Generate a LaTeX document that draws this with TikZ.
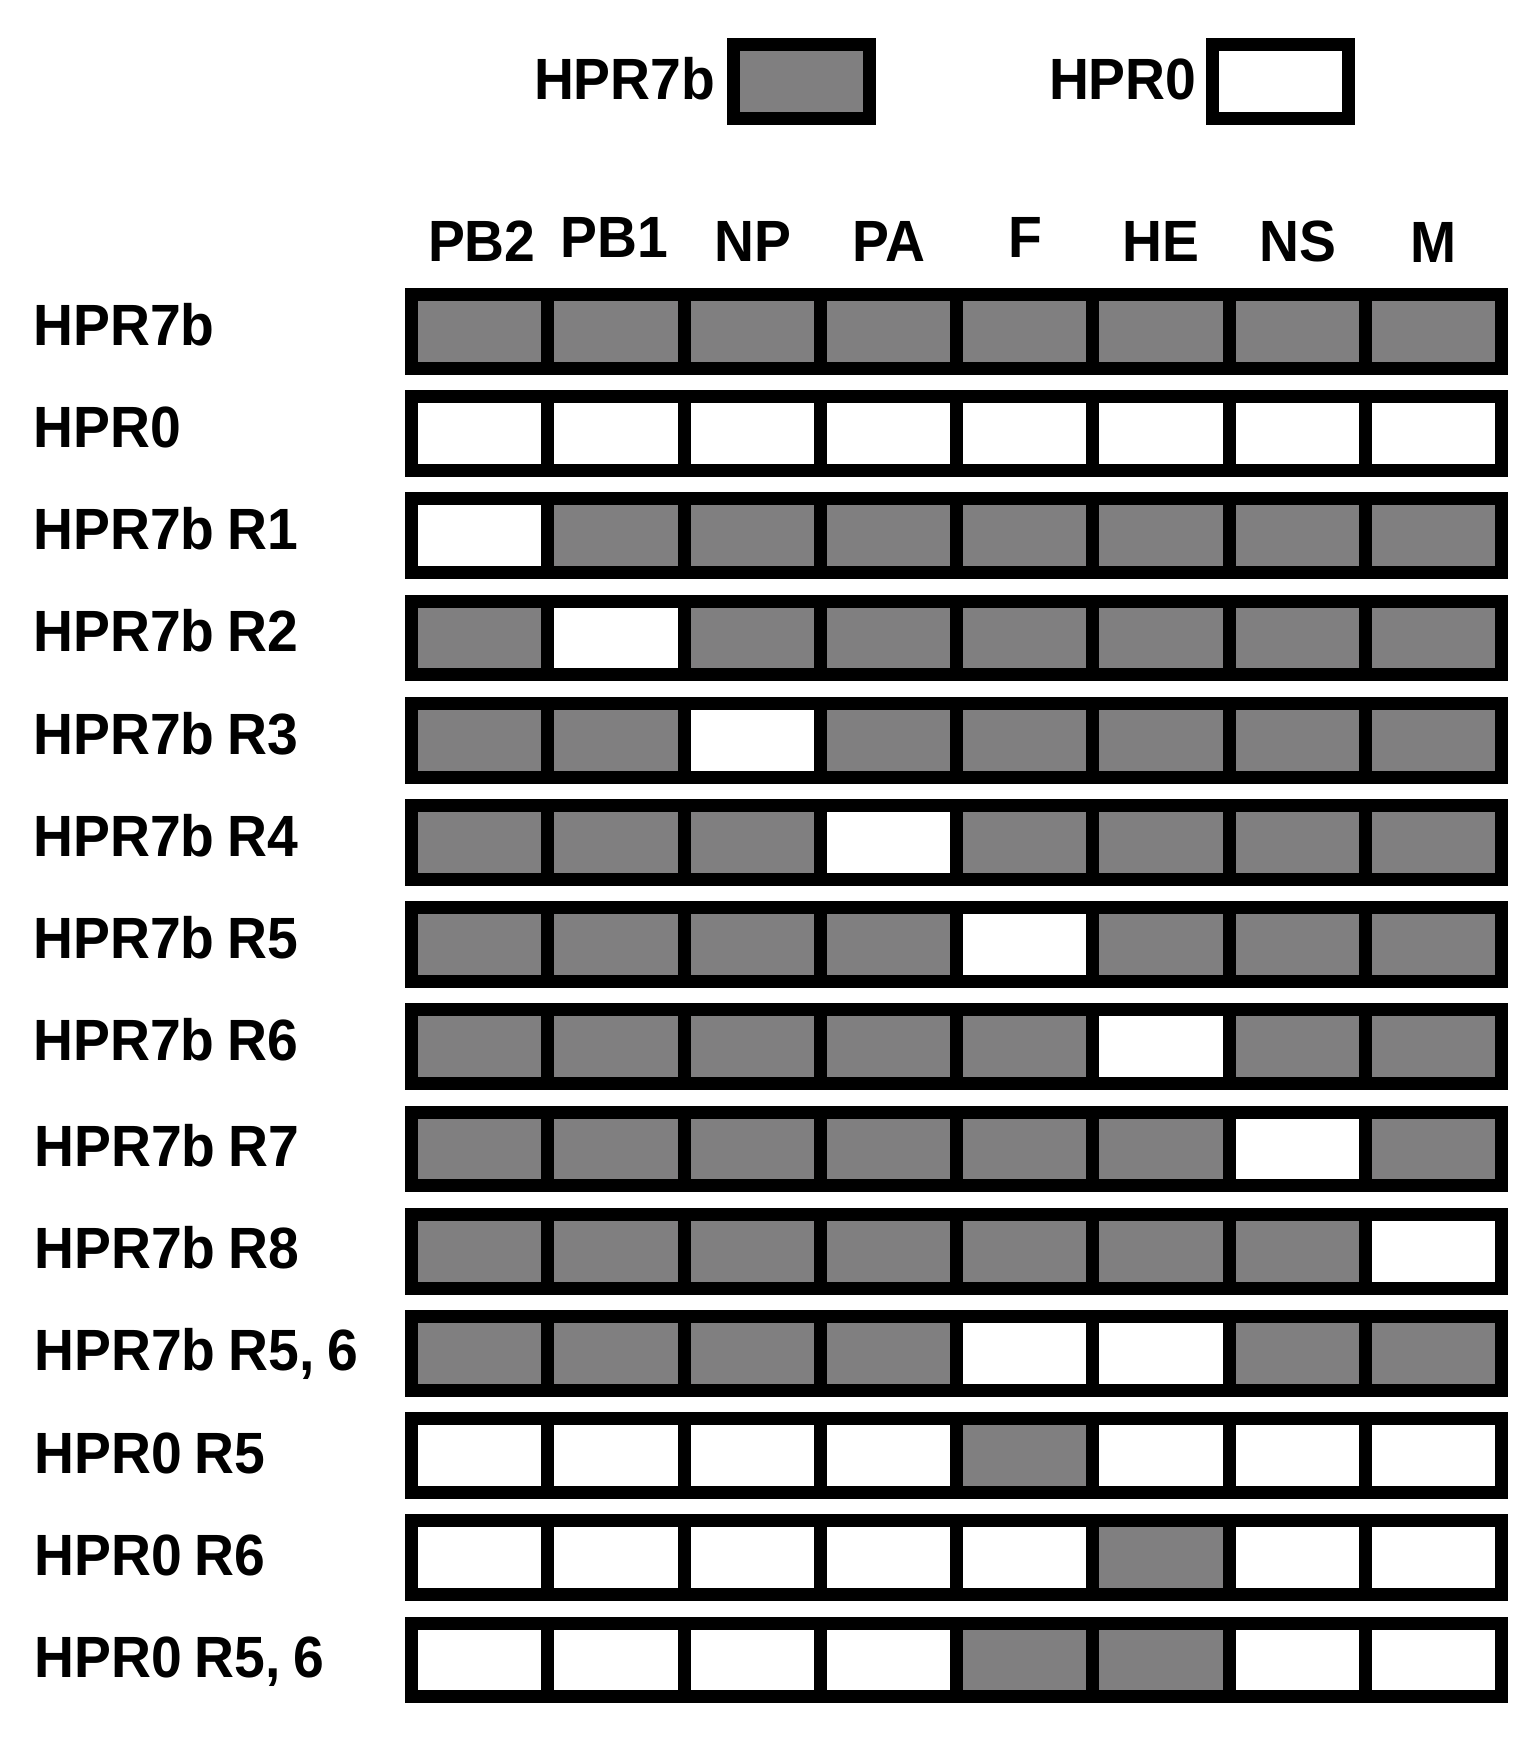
\documentclass[tikz,border=0pt]{standalone}
\usepackage{fontspec}
\setmainfont{Liberation Sans}
\usepackage{graphicx}
\definecolor{cg}{RGB}{128,127,128}
\definecolor{cw}{RGB}{255,255,255}
\newcommand\cond[1]{\scalebox{0.95}[1]{\spaceskip=13.5pt\relax #1}}
\tikzset{
  cell/.style={rectangle, draw=black, line width=13pt, minimum width=136.25pt,
    minimum height=73.7pt, inner sep=0pt, outer sep=0pt},
  txt/.style={inner sep=0pt, outer sep=0pt, font=\fontsize{58.2pt}{60pt}\selectfont\bfseries},
}
\begin{document}
\begin{tikzpicture}[x=1pt,y=-1pt]
\useasboundingbox (0,0) rectangle (1535,1738);
% legend
\node[txt, anchor=base west] (leg1t) at (534,99) {\cond{HPR7b}};
\node[cell, fill=cg] (leg1) at (801.2,81.3) {};
\node[txt, anchor=base west] (leg2t) at (1049,99) {\cond{HPR0}};
\node[cell, fill=cw] (leg2) at (1280.85,81.3) {};
% column headers
\foreach \h/\hx/\hy [count=\k] in {PB2/481.8/261.7, PB1/614/257.7, NP/753/261.7, PA/889/261.7,
  F/1025/257.7, HE/1161/261.7, NS/1298/261.7, M/1433.7/262.3}
  \node[txt, anchor=base] (h-\k) at (\hx,\hy) {\cond{\h}};
% rows
\foreach \lab/\pat/\lx/\ly [count=\i from 0] in {
  {HPR7b}/{cg,cg,cg,cg,cg,cg,cg,cg}/33.3/14,
  {HPR0}/{cw,cw,cw,cw,cw,cw,cw,cw}/33.3/14,
  {HPR7b R1}/{cw,cg,cg,cg,cg,cg,cg,cg}/33.3/14,
  {HPR7b R2}/{cg,cw,cg,cg,cg,cg,cg,cg}/33.3/14,
  {HPR7b R3}/{cg,cg,cw,cg,cg,cg,cg,cg}/33.3/14,
  {HPR7b R4}/{cg,cg,cg,cw,cg,cg,cg,cg}/33.3/14,
  {HPR7b R5}/{cg,cg,cg,cg,cw,cg,cg,cg}/33.3/14,
  {HPR7b R6}/{cg,cg,cg,cg,cg,cw,cg,cg}/33.3/14,
  {HPR7b R7}/{cg,cg,cg,cg,cg,cg,cw,cg}/34.5/17.5,
  {HPR7b R8}/{cg,cg,cg,cg,cg,cg,cg,cw}/34.5/17.5,
  {HPR7b R5, 6}/{cg,cg,cg,cg,cw,cw,cg,cg}/34.5/17.5,
  {HPR0 R5}/{cw,cw,cw,cw,cg,cw,cw,cw}/34.5/17.5,
  {HPR0 R6}/{cw,cw,cw,cw,cw,cg,cw,cw}/34.5/17.5,
  {HPR0 R5, 6}/{cw,cw,cw,cw,cg,cg,cw,cw}/34.5/17.5}
{
  \node[txt, anchor=base west] (l-\i) at (\lx, 331.35+102.2*\i+\ly) {\cond{\lab}};
  \foreach \v [count=\k from 0] in \pat
    \node[cell, fill=\v] (c-\i-\k) at (479.625+136.25*\k, 331.35+102.2*\i) {};
}
\end{tikzpicture}
\end{document}
